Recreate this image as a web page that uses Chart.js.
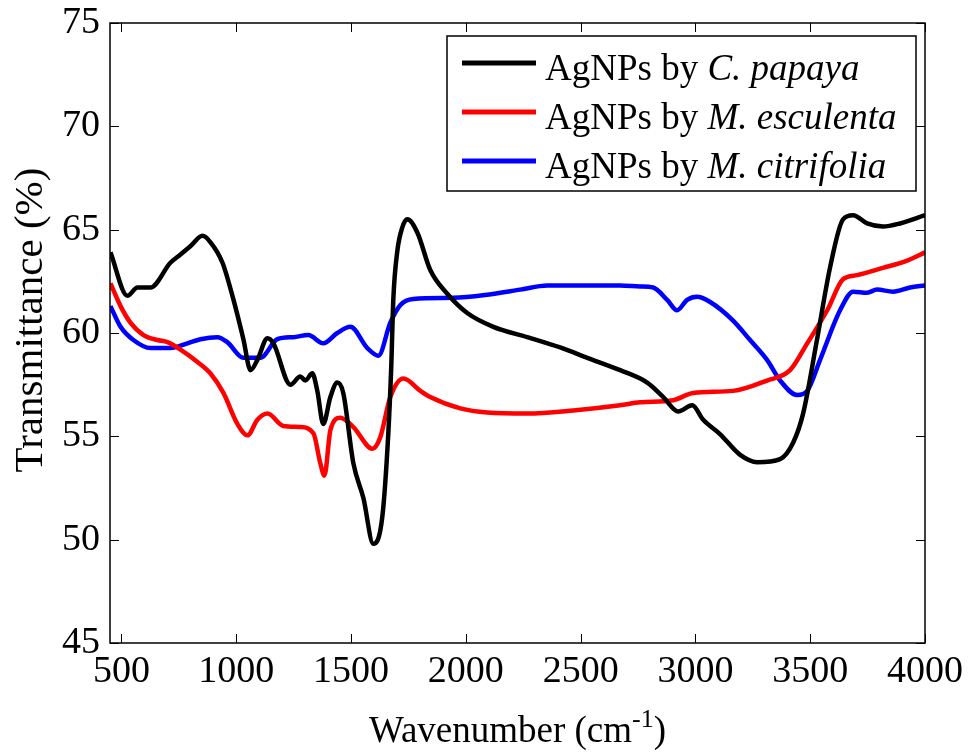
<!DOCTYPE html>
<html>
<head>
<meta charset="utf-8">
<script src="https://cdn.jsdelivr.net/npm/chart.js@4"></script>
<style>
  html, body { margin: 0; padding: 0; background: #fff; }
  #wrap { width: 972px; height: 752px; }
</style>
</head>
<body>
<div id="wrap"><canvas id="chartFtir" width="972" height="752"></canvas></div>
<script>
// Tick values
const xTicks = [500, 1000, 1500, 2000, 2500, 3000, 3500, 4000];
const yTicks = [45, 50, 55, 60, 65, 70, 75];

// Series names (legend)
const legendPrefix = 'AgNPs by ';
const speciesNames = ['C. papaya', 'M. esculenta', 'M. citrifolia'];
const seriesColors = ['#000000', '#ff0000', '#0000ff'];

// AgNPs by C. papaya
const papayaX = [452, 526, 570, 626, 713, 757, 800, 853, 887, 940, 988, 1031, 1062, 1092, 1136, 1162,
    1236, 1279, 1301, 1331, 1353, 1379, 1410, 1440, 1466, 1510, 1554, 1597, 1636, 1662, 1675, 1684,
    1702, 1723, 1745, 1789, 1845, 1919, 2006, 2120, 2267, 2411, 2529, 2672, 2790, 2860, 2925, 2986,
    3034, 3108, 3195, 3269, 3369, 3426, 3469, 3530, 3587, 3643, 3687, 3748, 3817, 3891, 4000];
const papayaY = [63.9, 61.8, 62.2, 62.2, 63.4, 63.8, 64.2, 64.7, 64.4, 63.4, 61.6, 59.7, 58.2, 58.7, 59.75, 59.5,
    57.5, 57.9, 57.7, 58.05, 57.2, 55.6, 56.9, 57.6, 57.1, 53.7, 52.0, 49.8, 51.1, 55.1, 58.35, 61.6,
    64.0, 65.1, 65.5, 64.85, 63.05, 61.9, 60.97, 60.3, 59.8, 59.3, 58.8, 58.2, 57.6, 56.9, 56.2, 56.5,
    55.8, 55.1, 54.1, 53.75, 53.9, 54.7, 56.1, 59.7, 63.2, 65.5, 65.7, 65.3, 65.15, 65.3, 65.7];

// AgNPs by M. esculenta
const esculentaX = [452, 496, 539, 596, 657, 700, 757, 831, 887, 944, 1005, 1049, 1092, 1136, 1205, 1279,
    1336, 1366, 1384, 1410, 1453, 1510, 1593, 1627, 1671, 1728, 1802, 1845, 1976, 2093, 2267, 2468,
    2672, 2759, 2903, 2990, 3164, 3312, 3412, 3487, 3574, 3643, 3704, 3817, 3922, 4000];
const esculentaY = [62.4, 61.3, 60.5, 59.9, 59.66, 59.56, 59.2, 58.6, 58.05, 57.1, 55.6, 55.05, 55.8, 56.1, 55.5, 55.45,
    55.15, 53.7, 53.1, 55.3, 55.9, 55.45, 54.4, 54.95, 56.9, 57.8, 57.2, 56.9, 56.35, 56.15, 56.1, 56.25,
    56.5, 56.65, 56.75, 57.1, 57.2, 57.7, 58.2, 59.5, 61.1, 62.6, 62.8, 63.15, 63.5, 63.9];

// AgNPs by M. citrifolia
const citrifoliaX = [452, 496, 552, 626, 713, 787, 844, 918, 961, 1031, 1105, 1179, 1249, 1314, 1379, 1440,
    1497, 1571, 1619, 1671, 1715, 1771, 1945, 2093, 2237, 2355, 2672, 2759, 2816, 2877, 2920, 2964,
    3007, 3064, 3164, 3238, 3312, 3369, 3443, 3487, 3543, 3630, 3687, 3748, 3791, 3861, 3935, 4000];
const citrifoliaY = [61.3, 60.3, 59.66, 59.27, 59.27, 59.5, 59.7, 59.8, 59.56, 58.8, 58.8, 59.7, 59.8, 59.9, 59.5, 60.0,
    60.3, 59.27, 58.9, 60.5, 61.36, 61.65, 61.7, 61.85, 62.1, 62.3, 62.3, 62.25, 62.2, 61.6, 61.1, 61.6,
    61.75, 61.5, 60.6, 59.66, 58.7, 57.7, 57.0, 57.2, 58.7, 61.1, 62.0, 61.95, 62.1, 62.0, 62.2, 62.3];

const toPoints = (xs, ys) => xs.map((x, i) => ({ x: x, y: ys[i] }));
const seriesData = [
    toPoints(papayaX, papayaY),
    toPoints(esculentaX, esculentaY),
    toPoints(citrifoliaX, citrifoliaY)
];

const serif = "'Liberation Serif', 'Times New Roman', serif";

// Frame, inward ticks, axis titles and legend (MATLAB style)
const matlabStyle = {
    id: 'matlabStyle',
    afterDraw(chart) {
        const ctx = chart.ctx;
        const a = chart.chartArea;
        const xs = chart.scales.x;
        const ys = chart.scales.y;
        const tl = 9;
        ctx.save();
        ctx.strokeStyle = '#000';
        ctx.lineWidth = 1.5;
        ctx.strokeRect(a.left, a.top, a.right - a.left, a.bottom - a.top);
        ctx.lineWidth = 1;
        ctx.beginPath();
        xTicks.forEach(v => {
            const px = Math.round(xs.getPixelForValue(v)) + 0.5;
            ctx.moveTo(px, a.bottom); ctx.lineTo(px, a.bottom - tl);
            ctx.moveTo(px, a.top); ctx.lineTo(px, a.top + tl);
        });
        yTicks.forEach(v => {
            const py = Math.round(ys.getPixelForValue(v)) + 0.5;
            ctx.moveTo(a.left, py); ctx.lineTo(a.left + tl, py);
            ctx.moveTo(a.right, py); ctx.lineTo(a.right - tl, py);
        });
        ctx.stroke();

        // x title with superscript
        ctx.fillStyle = '#000';
        ctx.textBaseline = 'alphabetic';
        const main = 'Wavenumber (cm';
        const sup = '-1';
        const close = ')';
        ctx.font = '37px ' + serif;
        const w1 = ctx.measureText(main).width;
        const w3 = ctx.measureText(close).width;
        ctx.font = '26px ' + serif;
        const w2 = ctx.measureText(sup).width;
        let x0 = (a.left + a.right) / 2 - (w1 + w2 + w3) / 2;
        const base = 742;
        ctx.textAlign = 'left';
        ctx.font = '37px ' + serif;
        ctx.fillText(main, x0, base);
        ctx.font = '26px ' + serif;
        ctx.fillText(sup, x0 + w1, base - 15);
        ctx.font = '37px ' + serif;
        ctx.fillText(close, x0 + w1 + w2, base);

        // y title
        ctx.save();
        ctx.translate(42, 320);
        ctx.rotate(-Math.PI / 2);
        ctx.textAlign = 'center';
        ctx.font = '41px ' + serif;
        ctx.fillText('Transmittance (%)', 0, 0);
        ctx.restore();

        // legend box
        const lx = 447, ly = 36, lw = 469, lh = 155;
        ctx.fillStyle = '#fff';
        ctx.fillRect(lx, ly, lw, lh);
        ctx.strokeStyle = '#000';
        ctx.lineWidth = 1.5;
        ctx.strokeRect(lx, ly, lw, lh);
        chart.data.datasets.forEach((ds, i) => {
            const baseY = 80 + i * 49;
            ctx.strokeStyle = ds.borderColor;
            ctx.lineWidth = 5;
            ctx.beginPath();
            ctx.moveTo(462, baseY - 17);
            ctx.lineTo(536, baseY - 17);
            ctx.stroke();
            ctx.fillStyle = '#000';
            ctx.textAlign = 'left';
            ctx.font = '37px ' + serif;
            ctx.fillText(legendPrefix, 545, baseY);
            const pw = ctx.measureText(legendPrefix).width;
            ctx.font = 'italic 37px ' + serif;
            ctx.fillText(speciesNames[i], 545 + pw, baseY);
        });
        ctx.restore();
    }
};

const ctxFtir = document.getElementById('chartFtir').getContext('2d');
new Chart(ctxFtir, {
    type: 'line',
    data: {
        datasets: seriesData.map((pts, i) => ({
            label: legendPrefix + speciesNames[i],
            data: pts,
            borderColor: seriesColors[i],
            backgroundColor: seriesColors[i],
            borderWidth: 4.5,
            pointRadius: 0,
            fill: false,
            cubicInterpolationMode: 'monotone'
        }))
    },
    options: {
        responsive: false,
        animation: false,
        layout: {
            padding: { top: 23, right: 47, left: 0, bottom: 0 }
        },
        plugins: {
            legend: { display: false },
            tooltip: { enabled: false }
        },
        scales: {
            x: {
                type: 'linear',
                min: 450,
                max: 4000,
                afterBuildTicks: scale => { scale.ticks = xTicks.map(v => ({ value: v })); },
                afterFit: scale => {
                    scale.height = 109;
                    scale.paddingLeft = 0;
                    scale.paddingRight = 0;
                },
                grid: { display: false, drawTicks: false },
                border: { display: false },
                ticks: {
                    color: '#000',
                    padding: 6,
                    maxRotation: 0,
                    callback: v => String(v),
                    font: { family: serif, size: 38 }
                }
            },
            y: {
                min: 45,
                max: 75,
                afterBuildTicks: scale => { scale.ticks = yTicks.map(v => ({ value: v })); },
                afterFit: scale => {
                    scale.width = 110;
                    scale.paddingTop = 0;
                    scale.paddingBottom = 0;
                },
                grid: { display: false, drawTicks: false },
                border: { display: false },
                ticks: {
                    color: '#000',
                    padding: 10,
                    callback: v => String(v),
                    font: { family: serif, size: 38 }
                }
            }
        }
    },
    plugins: [matlabStyle]
});
</script>
</body>
</html>
